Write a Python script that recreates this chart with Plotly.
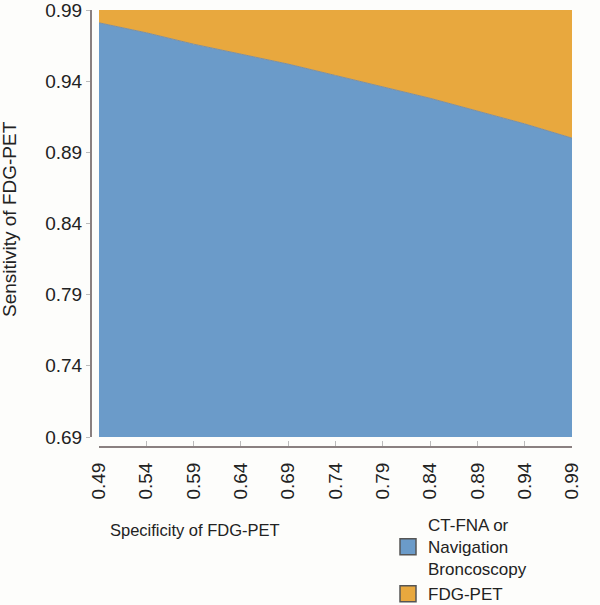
import plotly.graph_objects as go

specificity = [0.49, 0.54, 0.59, 0.64, 0.69, 0.74, 0.79, 0.84, 0.89, 0.94, 0.99]
threshold_sensitivity = [0.981, 0.974, 0.966, 0.959, 0.952, 0.944, 0.936, 0.928, 0.919, 0.910, 0.900]
top_sensitivity = [0.99] * len(specificity)
x_ticks = [0.49, 0.54, 0.59, 0.64, 0.69, 0.74, 0.79, 0.84, 0.89, 0.94, 0.99]
y_ticks = [0.69, 0.74, 0.79, 0.84, 0.89, 0.94, 0.99]
series_names = ["CT-FNA or<br>Navigation<br>Broncoscopy", "FDG-PET"]

BLUE = "#6b9bc9"
ORANGE = "#e8a83e"
FONT = "Liberation Sans, Arial, sans-serif"

W, H = 600, 605
ML, MR, MT, MB = 80, 28, 10, 150
PW, PH = W - ML - MR, H - MT - MB


def px(p):
    return (p - ML) / PW


def py(p):
    return (H - MB - p) / PH


fig = go.Figure()
fig.add_trace(go.Scatter(
    x=specificity, y=threshold_sensitivity, showlegend=False,
    mode="lines", line=dict(color="#7d8fa0", width=1),
    fill="tozeroy", fillcolor=BLUE, hoverinfo="skip",
))
fig.add_trace(go.Scatter(
    x=specificity, y=top_sensitivity, showlegend=False,
    mode="lines", line=dict(color=ORANGE, width=0),
    fill="tonexty", fillcolor=ORANGE, hoverinfo="skip",
))
for name, col in zip(series_names, [BLUE, ORANGE]):
    fig.add_trace(go.Scatter(
        x=[None], y=[None], name=name, mode="markers",
        marker=dict(symbol="square", size=16, color=col,
                    line=dict(color="#555", width=1.5)),
    ))

fig.update_layout(
    width=W, height=H,
    margin=dict(l=ML, r=MR, t=MT, b=MB, autoexpand=False),
    paper_bgcolor="#fdfdfb", plot_bgcolor="white",
    font=dict(family=FONT, color="#222", size=16),
    showlegend=True,
    legend=dict(x=px(388), y=py(507), xanchor="left", yanchor="top",
                traceorder="normal",
                font=dict(size=17, family=FONT, color="#222"),
                bgcolor="rgba(0,0,0,0)", tracegroupgap=0, itemwidth=30),
    xaxis=dict(domain=[px(99), 1], range=[0.49, 0.99], tickvals=x_ticks,
               ticktext=[f"{v:.2f}" for v in x_ticks], tickangle=-90,
               anchor="free", position=py(447), showline=True, linecolor="#8a8080",
               linewidth=2, ticks="inside", ticklen=5, tickcolor="#bbb",
               ticklabelstandoff=7,
               showgrid=False, zeroline=False, tickfont=dict(size=19)),
    yaxis=dict(domain=[py(437), 1], range=[0.69, 0.99], tickvals=y_ticks,
               ticktext=[f"{v:.2f}" for v in y_ticks],
               anchor="free", position=px(91), showline=True, linecolor="#8a8080",
               linewidth=2, ticks="outside", ticklen=4, tickcolor="#bbb",
               ticklabeloverflow="allow",
               showgrid=False, zeroline=False, tickfont=dict(size=19)),
    annotations=[
        dict(text="Specificity of FDG-PET", xref="paper", yref="paper",
             x=px(195), y=py(530), xanchor="center", yanchor="middle", showarrow=False,
             font=dict(size=16.5, family=FONT, color="#222")),
        dict(text="Sensitivity of FDG-PET", xref="paper", yref="paper",
             x=px(10), y=py(219), xanchor="center", yanchor="middle",
             textangle=-90, showarrow=False,
             font=dict(size=19, family=FONT, color="#222")),
    ],
)

fig.write_html("out.html", config={"displayModeBar": False},
               post_script="document.body.style.margin='0';")
